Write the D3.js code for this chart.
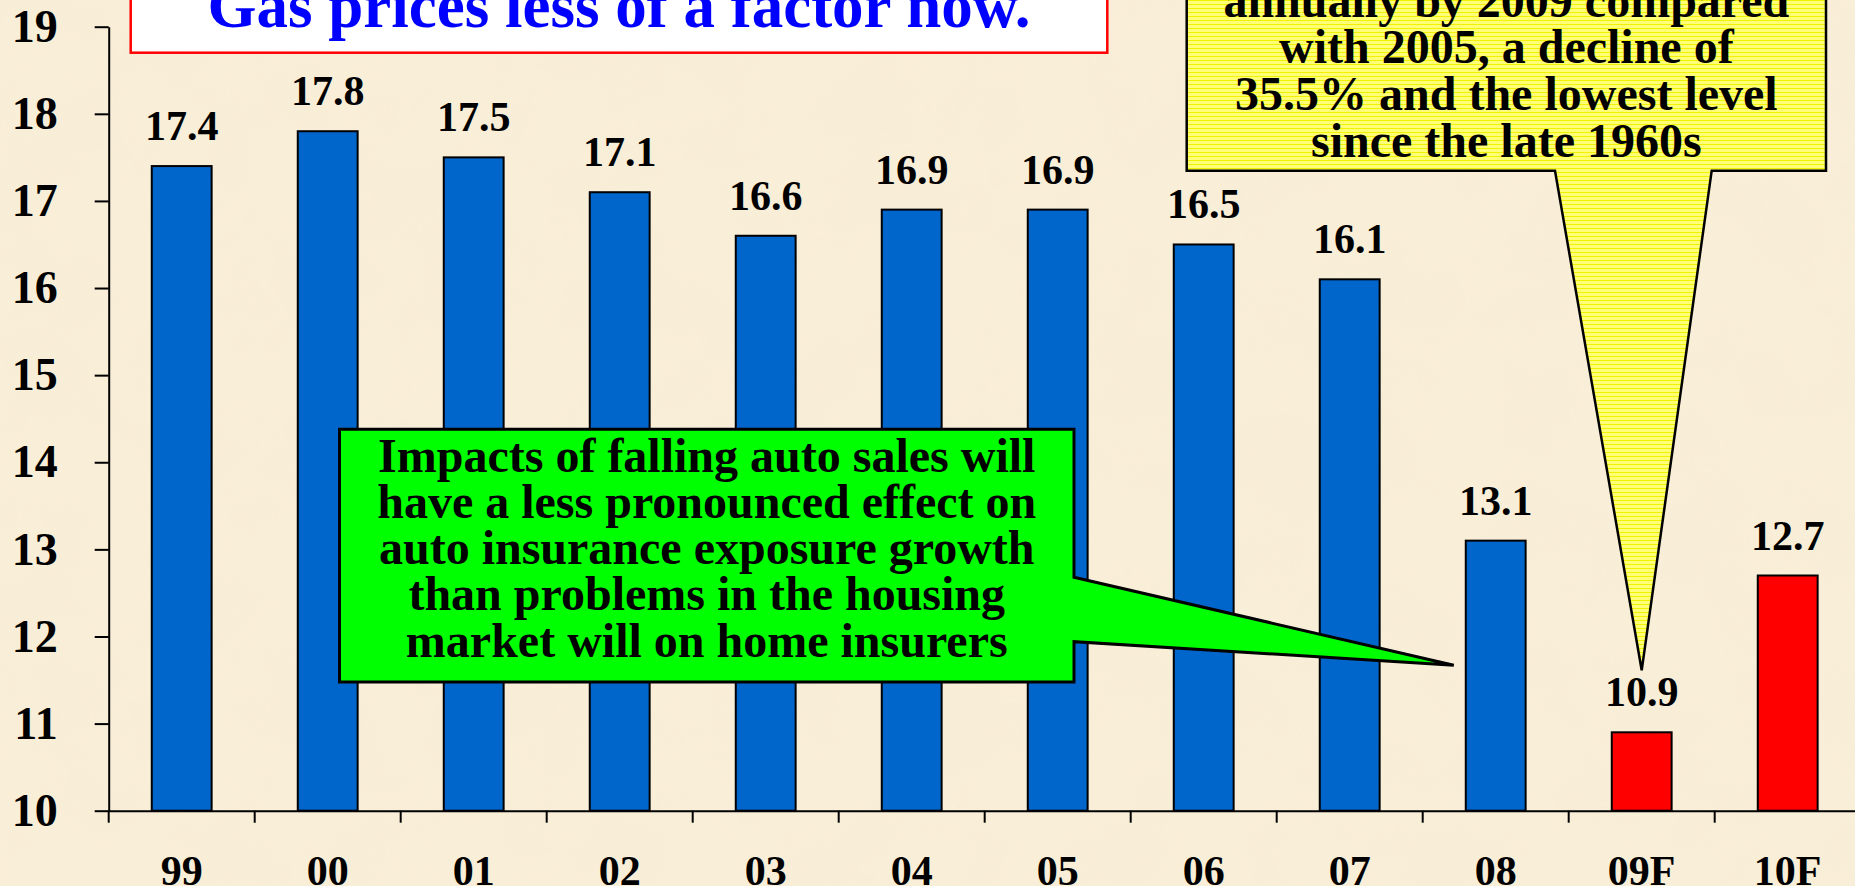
<!DOCTYPE html>
<html>
<head>
<meta charset="utf-8">
<script src="https://cdn.jsdelivr.net/npm/d3@7"></script>
<style>
  body { margin: 0; background: #f9eed7; overflow: hidden; }
  svg { display: block; }
  text { font-family: "Liberation Serif", "Times New Roman", serif; font-weight: bold; }
</style>
</head>
<body>
<script>
/**
 * US light vehicle sales (millions), 1999 - 2010F
 * bars + two callouts + a title box cut by the top edge
 */
var years = ["99", "00", "01", "02", "03", "04", "05", "06", "07", "08", "09F", "10F"];
var sales = [17.4, 17.8, 17.5, 17.1, 16.6, 16.9, 16.9, 16.5, 16.1, 13.1, 10.9, 12.7];
var forecast = [0, 0, 0, 0, 0, 0, 0, 0, 0, 0, 1, 1];
var yTicks = [10, 11, 12, 13, 14, 15, 16, 17, 18, 19];

var title = "Gas prices less of a factor now.";
var greenNote = [
  "Impacts of falling auto sales will",
  "have a less pronounced effect on",
  "auto insurance exposure growth",
  "than problems in the housing",
  "market will on home insurers"
];
var yellowNote = [
  "annually by 2009 compared",
  "with 2005, a decline of",
  "35.5% and the lowest level",
  "since the late 1960s"
];

var dataset = years.map((y, i) => [y, sales[i], forecast[i]]);

var w = 1855, h = 886;
var axisX = 108.7, axisY = 810.7, topY = 26.7;

var svg = d3.select("body")
          .append("svg")
          .attr("width", w)
          .attr("height", h);

var defs = svg.append("defs");

// paper-ish blotches
var paper = defs.append("filter")
          .attr("id", "paper")
          .attr("x", 0).attr("y", 0).attr("width", 1).attr("height", 1);
paper.append("feTurbulence")
          .attr("type", "fractalNoise")
          .attr("baseFrequency", 0.012)
          .attr("numOctaves", 3)
          .attr("seed", 7);
paper.append("feColorMatrix")
          .attr("type", "matrix")
          .attr("values", "0 0 0 0 0.90  0 0 0 0 0.82  0 0 0 0 0.66  0.9 0 0 0 -0.38");

// striped yellow fill of the callout
var stripes = defs.append("pattern")
          .attr("id", "stripes")
          .attr("patternUnits", "userSpaceOnUse")
          .attr("width", 8)
          .attr("height", 4);
stripes.append("rect")
          .attr("width", 8).attr("height", 4)
          .attr("fill", "#ffff78");
stripes.append("rect")
          .attr("width", 8).attr("height", 1)
          .attr("fill", "#f2f200");

svg.append("rect")
          .attr("width", w)
          .attr("height", h)
          .attr("fill", "#f9eed7");
svg.append("rect")
          .attr("width", w)
          .attr("height", h)
          .attr("filter", "url(#paper)")
          .attr("opacity", 0.55);

// scales
var xScale = d3.scaleBand()
          .domain(years)
          .range([axisX, axisX + 146 * years.length])
          .paddingInner(0.59)
          .paddingOuter(0.295);
var yScale = d3.scaleLinear()
          .domain([10, 19])
          .range([axisY, topY]);

// bars
svg.selectAll(".bar")
          .data(dataset)
          .enter()
          .append("rect")
          .attr("class", "bar")
          .attr("x", d => xScale(d[0]))
          .attr("y", d => yScale(d[1]))
          .attr("width", xScale.bandwidth())
          .attr("height", d => yScale(10) - yScale(d[1]))
          .attr("fill", d => d[2] ? "#ff0000" : "#0066cc")
          .attr("stroke", "#000")
          .attr("stroke-width", 2);

// value labels
svg.selectAll(".val")
          .data(dataset)
          .enter()
          .append("text")
          .attr("class", "val")
          .attr("x", d => xScale(d[0]) + xScale.bandwidth() / 2)
          .attr("y", d => yScale(d[1]) - 26)
          .attr("text-anchor", "middle")
          .style("font-size", "42px")
          .text(d => d[1].toFixed(1));

// y axis
var yAxis = d3.axisLeft(yScale)
          .tickValues(yTicks)
          .tickFormat(d3.format("d"))
          .tickSize(14)
          .tickSizeOuter(0)
          .tickPadding(37);
var gy = svg.append("g")
          .attr("transform", `translate(${axisX}, 0)`)
          .call(yAxis);
gy.select(".domain").attr("stroke", "#000").attr("stroke-width", 2);
gy.selectAll(".tick line").attr("stroke", "#000").attr("stroke-width", 2);
gy.selectAll(".tick text")
          .attr("fill", "#000")
          .style("font-size", "46px")
          .style("font-family", "Liberation Serif, serif");

// x axis: labels under bands, ticks between bands
var xAxis = d3.axisBottom(xScale)
          .tickSize(0)
          .tickSizeOuter(0);
var gx = svg.append("g")
          .attr("transform", `translate(0, ${axisY})`)
          .call(xAxis);
gx.select(".domain").attr("stroke", "#000").attr("stroke-width", 2);
gx.selectAll(".tick text")
          .attr("fill", "#000")
          .attr("dy", null)
          .attr("y", 74)
          .style("font-size", "42px")
          .style("font-family", "Liberation Serif, serif");
var gap = xScale.step() - xScale.bandwidth();
gx.selectAll(".sep")
          .data(years)
          .enter()
          .append("line")
          .attr("x1", d => xScale(d) - gap / 2)
          .attr("x2", d => xScale(d) - gap / 2)
          .attr("y1", 0)
          .attr("y2", 12)
          .attr("stroke", "#000")
          .attr("stroke-width", 2);

// green callout, pointing at the 08 bar
var gBox = {x0: 339.5, x1: 1074, y0: 429.3, y1: 682};
var gTip = [xScale("08") - 12, yScale(11.67)];
var greenPath = d3.path();
greenPath.moveTo(gBox.x0, gBox.y0);
greenPath.lineTo(gBox.x1, gBox.y0);
greenPath.lineTo(gBox.x1, 577.3);
greenPath.lineTo(gTip[0], gTip[1]);
greenPath.lineTo(gBox.x1, 641.7);
greenPath.lineTo(gBox.x1, gBox.y1);
greenPath.lineTo(gBox.x0, gBox.y1);
greenPath.closePath();
svg.append("path")
          .attr("d", greenPath.toString())
          .attr("fill", "#00ff00")
          .attr("stroke", "#000")
          .attr("stroke-width", 3)
          .attr("stroke-linejoin", "miter");
svg.append("g")
          .selectAll("text")
          .data(greenNote)
          .enter()
          .append("text")
          .attr("x", (gBox.x0 + gBox.x1) / 2)
          .attr("y", (d, i) => 471.7 + i * 46.25)
          .attr("text-anchor", "middle")
          .style("font-size", "48px")
          .text(d => d);

// yellow callout, pointing at the 09F label
var yBox = {x0: 1186.7, x1: 1826, y0: -10, y1: 170.7};
var yTip = [xScale("09F") + xScale.bandwidth() / 2, yScale(10.9) - 62];
var yellowPath = d3.path();
yellowPath.moveTo(yBox.x0, yBox.y0);
yellowPath.lineTo(yBox.x1, yBox.y0);
yellowPath.lineTo(yBox.x1, yBox.y1);
yellowPath.lineTo(1711.7, yBox.y1);
yellowPath.lineTo(yTip[0], yTip[1]);
yellowPath.lineTo(1555, yBox.y1);
yellowPath.lineTo(yBox.x0, yBox.y1);
yellowPath.closePath();
svg.append("path")
          .attr("d", yellowPath.toString())
          .attr("fill", "url(#stripes)")
          .attr("stroke", "#000")
          .attr("stroke-width", 2.5);
svg.append("g")
          .selectAll("text")
          .data(yellowNote)
          .enter()
          .append("text")
          .attr("x", (yBox.x0 + yBox.x1) / 2)
          .attr("y", (d, i) => 16.7 + i * 46.7)
          .attr("text-anchor", "middle")
          .style("font-size", "48px")
          .text(d => d);

// title box
svg.append("rect")
          .attr("x", 130.7)
          .attr("y", -10)
          .attr("width", 1107.3 - 130.7)
          .attr("height", 52.7 + 10)
          .attr("fill", "#ffffff")
          .attr("stroke", "#ff0000")
          .attr("stroke-width", 2.5);
svg.append("text")
          .attr("x", (130.7 + 1107.3) / 2)
          .attr("y", 26.7)
          .attr("text-anchor", "middle")
          .attr("fill", "#0000ff")
          .style("font-size", "63px")
          .text(title);
</script>
</body>
</html>
